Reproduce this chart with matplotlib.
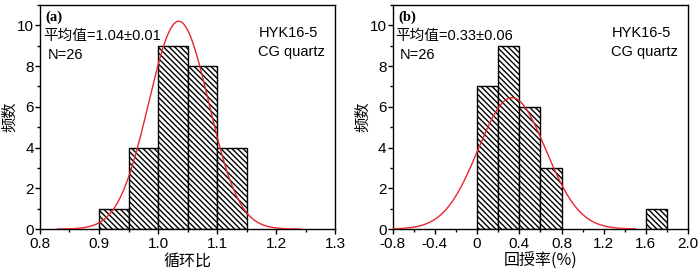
import numpy as np
import matplotlib
matplotlib.use("Agg")
import matplotlib.pyplot as plt
from matplotlib.ticker import MultipleLocator

plt.rcParams['font.family'] = ['Liberation Sans', 'Noto Sans CJK SC']
plt.rcParams['hatch.linewidth'] = 1.0

# (a) cycle ratio histogram
bins_a = [0.90, 0.95, 1.00, 1.05, 1.10]
width_a = 0.05
counts_a = [1, 4, 9, 8, 4]
fit_a = dict(mu=1.035, sigma=0.051, peak=10.2, lo=0.83, hi=1.24)

# (b) recovery rate histogram
bins_b = [0.0, 0.2, 0.4, 0.6, 1.6]
width_b = 0.2
counts_b = [7, 9, 6, 3, 1]
fit_b = dict(mu=0.33, sigma=0.32, peak=6.45, lo=-0.8, hi=1.5)

xt_a = [0.8, 0.9, 1.0, 1.1, 1.2, 1.3]
xtl_a = ['0.8', '0.9', '1.0', '1.1', '1.2', '1.3']
xt_b = [-0.8, -0.4, 0, 0.4, 0.8, 1.2, 1.6, 2.0]
xtl_b = ['-0.8', '-0.4', '0', '0.4', '0.8', '1.2', '1.6', '2.0']

cjk = ['Noto Sans CJK SC', 'Liberation Sans']


def gauss(fit):
    x = np.linspace(fit['lo'], fit['hi'], 300)
    return x, fit['peak'] * np.exp(-(x - fit['mu']) ** 2 / (2 * fit['sigma'] ** 2))


def panel(ax, bins, width, counts, fit, tag, mean_txt, xlabel, xlim, xminor, xt, xtl):
    ax.bar(bins, counts, width=width, align='edge', color='white',
           edgecolor='black', linewidth=1.0, hatch='\\' * 6, zorder=2)
    x, y = gauss(fit)
    ax.plot(x, y, color='#e8262a', linewidth=1.0, zorder=3)
    ax.set_xlim(*xlim)
    ax.set_ylim(0, 11)
    ax.set_xticks(xt)
    ax.set_xticklabels(xtl)
    ax.xaxis.set_minor_locator(MultipleLocator(xminor))
    ax.yaxis.set_major_locator(MultipleLocator(2))
    ax.yaxis.set_minor_locator(MultipleLocator(1))
    ax.tick_params(which='major', direction='out', length=3.5, width=1, labelsize=11, pad=1)
    ax.tick_params(axis='x', which='major', pad=2.5)
    ax.tick_params(which='minor', direction='out', length=2, width=1)
    for s in ax.spines.values():
        s.set_linewidth(1.0)
    ax.set_xlabel(xlabel, fontsize=11.5, family=cjk, labelpad=1)
    ax.set_ylabel('频数', fontsize=11, family=cjk)
    ax.yaxis.set_label_coords(-0.072, 0.5)
    ax.text(0.02, 0.975, tag, transform=ax.transAxes, ha='left', va='top',
            fontsize=10.5, family='Liberation Serif', fontweight='bold')
    ax.text(0.01, 0.86, mean_txt, transform=ax.transAxes, ha='left', va='center',
            fontsize=10.5)
    ax.text(0.025, 0.775, 'N=26', transform=ax.transAxes, ha='left', va='center', fontsize=10.5)
    ax.text(0.74, 0.875, 'HYK16-5', transform=ax.transAxes, ha='left', va='center', fontsize=10.5)
    ax.text(0.74, 0.79, 'CG quartz', transform=ax.transAxes, ha='left', va='center', fontsize=10.5)


fig = plt.figure(figsize=(7.0, 2.74), dpi=100)
ax1 = fig.add_axes([0.057, 0.164, 0.422, 0.818])
ax2 = fig.add_axes([0.561, 0.164, 0.422, 0.818])

panel(ax1, bins_a, width_a, counts_a, fit_a, '(a)', '平均值=1.04±0.01', '循环比',
      (0.8, 1.3), 0.05, xt_a, xtl_a)
panel(ax2, bins_b, width_b, counts_b, fit_b, '(b)', '平均值=0.33±0.06', '回授率(%)',
      (-0.8, 2.0), 0.2, xt_b, xtl_b)

fig.savefig('out.png', dpi=100)
